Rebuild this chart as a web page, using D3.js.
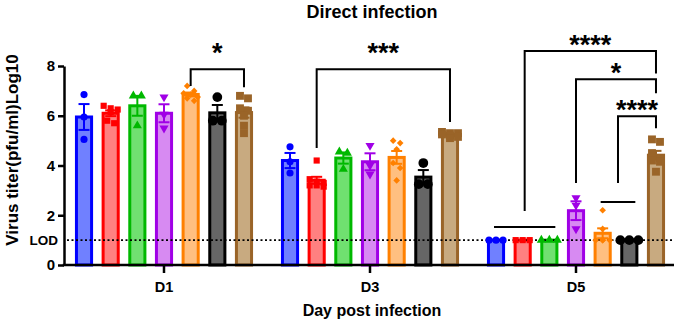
<!DOCTYPE html>
<html>
<head>
<meta charset="utf-8">
<script src="https://cdn.jsdelivr.net/npm/d3@7"></script>
<style>
  body { margin: 0; background: #fff; }
  svg text { font-family: 'Liberation Sans', Arial, sans-serif; font-weight: bold; fill: #000; }
</style>
</head>
<body>
<svg id="chart" width="674" height="320"></svg>
<script>
// data
const days = ['D1', 'D3', 'D5']
const groups = ['G1', 'G2', 'G3', 'G4', 'G5', 'G6', 'G7']
const valuesD1 = [
  [6.85, 5.95, 5.05],
  [6.4, 6.3, 6.25, 6.15, 5.8, 5.7],
  [6.8, 6.8, 5.6],
  [6.75, 6.05, 5.5],
  [7.2, 7.0, 6.9, 6.85, 6.75, 6.7, 6.6],
  [6.75, 5.8, 5.8],
  [6.8, 6.7, 6.3, 6.2, 6.0, 5.6, 5.3]
]
const valuesD3 = [
  [4.75, 4.15, 3.7],
  [4.2, 3.45, 3.35, 3.3, 3.2, 3.2, 3.15],
  [4.55, 4.5, 3.85],
  [4.8, 4.0, 3.65],
  [5.0, 4.9, 4.65, 4.1, 3.9, 3.4],
  [4.1, 3.25, 3.25],
  [5.35, 5.3, 5.3, 5.25, 5.2, 5.15, 5.1]
]
const valuesD5 = [
  [1, 1, 1],
  [1, 1, 1],
  [1, 1, 1],
  [2.7, 2.4, 1.45],
  [2.2, 1.45, 1, 1, 1, 1],
  [1, 1, 1],
  [5.05, 4.95, 4.5, 4.3, 4.2, 4.15, 3.75]
]
const yTicks = [0, 2, 4, 6, 8]
const lod = 1
const comparisons = [
  { day: 'D1', from: [4], to: 6, label: '*' },
  { day: 'D3', from: [1], to: 6, label: '***' },
  { day: 'D5', from: [0, 1, 2], to: 6, label: '****' },
  { day: 'D5', from: [3], to: 6, label: '*' },
  { day: 'D5', from: [4, 5], to: 6, label: '****' }
]

// layout / style
const plot = { left: 64, right: 674, top: 66, bottom: 265 }
// bracket heights in data units: top line, left leg end, right leg end, group line
const bracketLayout = [
  { top: 7.87, left: 7.2, right: 7.15, labelGap: 24 },
  { top: 7.87, left: 4.7, right: 5.75, labelGap: 24 },
  { top: 8.6, left: 2.17, right: 7.7, groupLine: 1.53, labelGap: 14 },
  { top: 7.47, left: 3.3, right: 6.9, labelGap: 14 },
  { top: 5.98, left: 3.3, right: 5.5, groupLine: 2.53, labelGap: 14 }
]
const strokeColors = ['#0000ff', '#ff0000', '#00b800', '#a000e6', '#ff8000', '#000000', '#9a6428']
const fillColors = ['#7080ff', '#ff8080', '#70e070', '#d78af2', '#ffbf80', '#666666', '#c8aa80']
const markers = [
  { type: d3.symbolCircle, size: 40, rotate: 0, w: 7 },
  { type: d3.symbolSquare, size: 38, rotate: 0, w: 7 },
  { type: d3.symbolTriangle, size: 36, rotate: 0, w: 8 },
  { type: d3.symbolTriangle, size: 36, rotate: 180, w: 8 },
  { type: d3.symbolSquare, size: 22, rotate: 45, w: 7 },
  { type: d3.symbolCircle, size: 75, rotate: 0, w: 9 },
  { type: d3.symbolSquare, size: 62, rotate: 0, w: 8 }
]

const valuesByDay = { D1: valuesD1, D3: valuesD3, D5: valuesD5 }

const svg = d3.select('#chart')

const y = d3.scaleLinear().domain([0, 8]).range([plot.bottom, plot.top])
const xDay = d3.scaleBand().domain(days).range([61, 679])
const xGroup = d3.scaleBand()
  .domain(d3.range(groups.length))
  .range([-xDay.bandwidth() * 0.453, xDay.bandwidth() * 0.453])
  .paddingInner(0.32).paddingOuter(0.16)
const bw = xGroup.bandwidth()
const cx = (day, i) => xDay(day) + xDay.bandwidth() / 2 + xGroup(i) + bw / 2

// summary stats
const cells = []
days.forEach(day => {
  valuesByDay[day].forEach((vals, i) => {
    const mean = d3.mean(vals)
    const sem = vals.length > 1 ? d3.deviation(vals) / Math.sqrt(vals.length) : 0
    cells.push({ day, i, vals, mean, sem })
  })
})

// bars
svg.append('g').selectAll('rect')
  .data(cells)
  .join('rect')
  .attr('x', d => cx(d.day, d.i) - bw / 2 + 1.5)
  .attr('width', bw - 3)
  .attr('y', d => y(d.mean))
  .attr('height', d => y(0) - y(d.mean))
  .attr('fill', d => fillColors[d.i])
  .attr('stroke', d => strokeColors[d.i])
  .attr('stroke-width', 3)

// LOD line
svg.append('line')
  .attr('x1', plot.left + 3).attr('x2', plot.right)
  .attr('y1', y(lod)).attr('y2', y(lod))
  .attr('stroke', '#000')
  .attr('stroke-width', 1.6)
  .attr('stroke-dasharray', '2,2.5')

// error bars
const gErr = svg.append('g')
cells.filter(d => d.sem > 0).forEach(d => {
  const x0 = cx(d.day, d.i)
  const g = gErr.append('g').attr('stroke', strokeColors[d.i]).attr('stroke-width', 2)
  g.append('line').attr('x1', x0).attr('x2', x0).attr('y1', y(d.mean - d.sem)).attr('y2', y(d.mean + d.sem))
  g.append('line').attr('x1', x0 - 5.5).attr('x2', x0 + 5.5).attr('y1', y(d.mean + d.sem)).attr('y2', y(d.mean + d.sem))
  g.append('line').attr('x1', x0 - 5.5).attr('x2', x0 + 5.5).attr('y1', y(d.mean - d.sem)).attr('y2', y(d.mean - d.sem))
})

// scatter points, spread sideways when they overlap
const gPts = svg.append('g')
cells.forEach(d => {
  const m = markers[d.i]
  const s = m.w
  const sorted = d.vals.slice().sort((a, b) => b - a)
  const rows = []
  sorted.forEach(v => {
    const last = rows[rows.length - 1]
    if (last && Math.abs(y(v) - y(last[0])) < s * 0.8 && last.length < 3) last.push(v)
    else rows.push([v])
  })
  rows.forEach(row => {
    row.forEach((v, k) => {
      const dx = (k - (row.length - 1) / 2) * s
      gPts.append('path')
        .attr('d', d3.symbol().type(m.type).size(m.size)())
        .attr('transform', `translate(${cx(d.day, d.i) + dx},${y(v)}) rotate(${m.rotate})`)
        .attr('fill', strokeColors[d.i])
    })
  })
})

// y axis
const yAxis = svg.append('g')
  .attr('transform', `translate(${plot.left},0)`)
  .call(d3.axisLeft(y).tickValues(yTicks).tickSize(6).tickSizeOuter(0).tickPadding(3))
yAxis.select('.domain').attr('stroke-width', 2.5)
yAxis.selectAll('.tick line').attr('stroke-width', 2.5)
yAxis.selectAll('.tick text').attr('font-size', 15).style('font-family', null)
yAxis.append('text')
  .attr('x', -6).attr('y', y(lod))
  .attr('dy', '0.35em')
  .attr('text-anchor', 'end')
  .attr('font-size', 13.5)
  .text('LOD')

// x axis
svg.append('line')
  .attr('x1', plot.left - 1.25).attr('x2', plot.right)
  .attr('y1', plot.bottom).attr('y2', plot.bottom)
  .attr('stroke', '#000').attr('stroke-width', 2.5)
const xAxis = svg.append('g')
  .attr('transform', `translate(0,${plot.bottom})`)
  .call(d3.axisBottom(xDay).tickSize(8).tickSizeOuter(0).tickPadding(9))
xAxis.select('.domain').remove()
xAxis.selectAll('.tick line').attr('stroke-width', 2.5)
xAxis.selectAll('.tick text').attr('font-size', 14.5).style('font-family', null)

// axis titles
svg.append('text')
  .attr('transform', `translate(18,150) rotate(-90)`)
  .attr('text-anchor', 'middle')
  .attr('font-size', 17)
  .text('Virus titer(pfu/ml)Log10')
svg.append('text')
  .attr('x', 372).attr('y', 316)
  .attr('text-anchor', 'middle')
  .attr('font-size', 16)
  .text('Day post infection')
svg.append('text')
  .attr('x', 372).attr('y', 18)
  .attr('text-anchor', 'middle')
  .attr('font-size', 18)
  .text('Direct infection')

// significance brackets
const gSig = svg.append('g').attr('stroke', '#000').attr('stroke-width', 2).attr('fill', 'none')
comparisons.forEach((c, k) => {
  const L = bracketLayout[k]
  let xl
  if (c.from.length > 1) {
    const a = cx(c.day, c.from[0]) - 2
    const b = cx(c.day, c.from[c.from.length - 1]) + 6
    gSig.append('line').attr('x1', a).attr('x2', b).attr('y1', y(L.groupLine)).attr('y2', y(L.groupLine))
    xl = (a + b) / 2
  } else {
    xl = cx(c.day, c.from[0])
  }
  const xr = cx(c.day, c.to)
  gSig.append('path')
    .attr('d', `M${xl},${y(L.left)}V${y(L.top)}H${xr}V${y(L.right)}`)
  svg.append('text')
    .attr('x', (xl + xr) / 2)
    .attr('y', y(L.top) - L.labelGap + 17)
    .attr('text-anchor', 'middle')
    .attr('font-size', 27)
    .text(c.label)
})
</script>
</body>
</html>
